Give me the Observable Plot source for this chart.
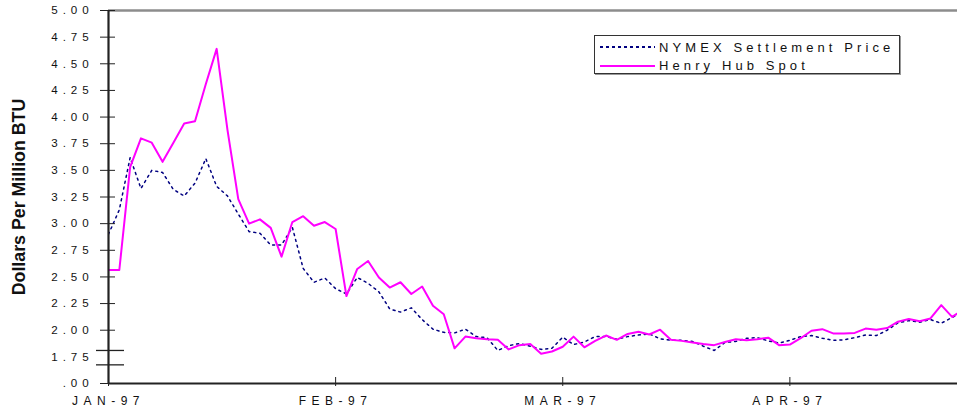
<!DOCTYPE html>
<html>
<head>
<meta charset="utf-8">
<script src="https://cdn.jsdelivr.net/npm/d3@7"></script>
<script src="https://cdn.jsdelivr.net/npm/@observablehq/plot@0.6"></script>
<style>
  html, body { margin: 0; padding: 0; background: #fff; }
  #wrap { position: relative; width: 957px; height: 411px; font-family: "Liberation Sans", Arial, sans-serif; }
  #legend { position: absolute; left: 594px; top: 35px; width: 304px; height: 37px; border: 1px solid #333; background: #fff; box-shadow: 1px 1px 0 #999; }
  .row { position: absolute; left: 0; height: 18px; display: flex; align-items: center; }
  .row svg { display: block; margin-left: 5px; }
  .row span { margin-left: 4px; font-size: 13px; letter-spacing: 4.1px; color: #111; white-space: nowrap; }
</style>
</head>
<body>
<div id="wrap">
  <div id="chart"></div>
  <div id="legend"></div>
</div>
<script>
// ---- Data (trading-day index, $/MMBtu) ----
const henryHub = [2.565, 2.565, 3.53, 3.80, 3.76, 3.58, 3.76, 3.94, 3.96, 4.31,
  4.64, 3.88, 3.23, 3.00, 3.04, 2.96, 2.69, 3.015, 3.07, 2.98,
  3.015, 2.95, 2.32, 2.575, 2.65, 2.495, 2.40, 2.45, 2.34, 2.41,
  2.23, 2.15, 1.83, 1.94, 1.925, 1.915, 1.91, 1.82, 1.86, 1.87,
  1.78, 1.80, 1.845, 1.94, 1.84, 1.90, 1.95, 1.91, 1.965, 1.985,
  1.96, 2.005, 1.91, 1.90, 1.885, 1.87, 1.86, 1.89, 1.915, 1.905,
  1.915, 1.93, 1.86, 1.865, 1.925, 1.995, 2.01, 1.97, 1.97, 1.975,
  2.015, 2.005, 2.02, 2.08, 2.105, 2.085, 2.11, 2.235, 2.125, 2.19];
const nymex = [2.90, 3.13, 3.62, 3.33, 3.50, 3.48, 3.32, 3.26, 3.38, 3.61,
  3.35, 3.26, 3.09, 2.925, 2.91, 2.80, 2.80, 2.965, 2.58, 2.45,
  2.49, 2.39, 2.34, 2.495, 2.44, 2.36, 2.20, 2.17, 2.21, 2.10,
  2.01, 1.98, 1.975, 2.01, 1.94, 1.93, 1.81, 1.855, 1.875, 1.85,
  1.82, 1.83, 1.935, 1.865, 1.89, 1.94, 1.94, 1.915, 1.94, 1.955,
  1.965, 1.92, 1.905, 1.905, 1.895, 1.85, 1.81, 1.885, 1.895, 1.925,
  1.93, 1.90, 1.88, 1.905, 1.94, 1.95, 1.925, 1.905, 1.91, 1.93,
  1.955, 1.95, 2.00, 2.07, 2.09, 2.075, 2.10, 2.065, 2.12, 2.17];
const seriesNames = ["NYMEX Settlement Price", "Henry Hub Spot"];
const xTicks = [0, 21, 42, 63];
const xTickLabels = ["JAN-97", "FEB-97", "MAR-97", "APR-97"];
const yTicks = [5.00, 4.75, 4.50, 4.25, 4.00, 3.75, 3.50, 3.25, 3.00, 2.75, 2.50, 2.25, 2.00, 1.75, 1.50];
const yTickLabels = ["5.00", "4.75", "4.50", "4.25", "4.00", "3.75", "3.50", "3.25", "3.00", "2.75", "2.50", "2.25", "2.00", "1.75", ".00"];
const yTickMarks = [5.00, 4.75, 4.50, 4.25, 4.00, 3.75, 3.50, 3.25, 3.00, 2.75, 2.50, 2.25, 2.00, 1.50];
const axisBreak = [1.81, 1.675];
const yTitle = "Dollars Per Million BTU";

const W = 957, H = 411, ML = 108, MR = 0, MT = 10, MB = 28;
const hhData = henryHub.map((v, i) => ({i, v}));
const nyData = nymex.map((v, i) => ({i, v}));
const colors = {nymex: "#000080", hh: "#FF00FF"};

const chart = Plot.plot({
  width: W, height: H,
  marginLeft: ML, marginRight: MR, marginTop: MT, marginBottom: MB,
  style: {fontFamily: "'Liberation Sans', Arial, sans-serif", color: "#111", background: "#fff"},
  x: {domain: [0, 78.5], axis: null},
  y: {domain: [1.5, 5], axis: null},
  marks: [
    Plot.ruleY([5], {stroke: "#8c8c8c", strokeWidth: 2.5}),
    Plot.line(nyData, {x: "i", y: "v", stroke: colors.nymex, strokeWidth: 1.5, strokeDasharray: "2,4", clip: true}),
    Plot.line(hhData, {x: "i", y: "v", stroke: colors.hh, strokeWidth: 2, clip: true}),
    Plot.ruleX([0], {stroke: "#222", strokeWidth: 2.2}),
    Plot.ruleY([1.5], {stroke: "#222", strokeWidth: 2.2}),
    Plot.ruleY(axisBreak, {stroke: "#222", strokeWidth: 1.3, insetLeft: -12, insetRight: W - MR - 124}),
    Plot.axisY({ticks: yTickMarks, tickSize: 15, dx: 7, fill: "none", stroke: "#222", label: null}),
    Plot.axisY({ticks: yTicks, tickSize: 0, tickPadding: 15, fontSize: 11.6,
      tickFormat: d => yTickLabels[yTicks.indexOf(d)], label: null}),
    Plot.axisX({ticks: xTicks, tickSize: 9, dy: -6, fill: "none", stroke: "#222", label: null}),
    Plot.axisX({ticks: xTicks, tickSize: 0, tickPadding: 13, fontSize: 12,
      tickFormat: d => xTickLabels[xTicks.indexOf(d)], label: null}),
    Plot.text([yTitle], {text: d => d, frameAnchor: "left", textAnchor: "middle", rotate: -90, dx: -89,
      fontWeight: "bold", fontSize: 17.8, fill: "#111"})
  ]
});
document.getElementById("chart").appendChild(chart);

// letter spacing on tick labels (styling only)
chart.querySelectorAll('g[aria-label="y-axis tick label"]').forEach(g => g.style.letterSpacing = "4.9px");
chart.querySelectorAll('g[aria-label="x-axis tick label"]').forEach(g => g.style.letterSpacing = "5.5px");

// legend
const legend = document.getElementById("legend");
const items = [
  {name: seriesNames[0], color: colors.nymex, dash: "3,3", width: 2},
  {name: seriesNames[1], color: colors.hh, dash: null, width: 2}
];
items.forEach((it, k) => {
  const row = document.createElement("div");
  row.className = "row";
  row.style.top = (2 + k * 18.6) + "px";
  row.innerHTML = `<svg width="55" height="10"><line x1="0" x2="55" y1="5" y2="5" stroke="${it.color}" stroke-width="${it.width}" ${it.dash ? `stroke-dasharray="${it.dash}"` : ""}/></svg><span>${it.name}</span>`;
  legend.appendChild(row);
});
</script>
</body>
</html>
